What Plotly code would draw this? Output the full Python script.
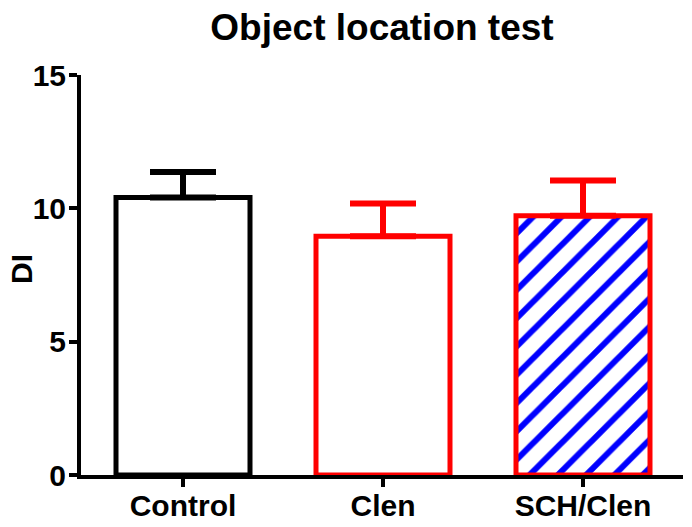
import plotly.graph_objects as go

categories = ["Control", "Clen", "SCH/Clen"]
means = [10.41, 8.95, 9.72]
errors_up = [0.95, 1.23, 1.32]
line_colors = ["#000000", "#ff0000", "#ff0000"]
patterns = ["", "", "/"]
y_ticks = [0, 5, 10, 15]

FONT = "Liberation Sans, Arial, sans-serif"

fig = go.Figure()
for i, cat in enumerate(categories):
    fig.add_trace(go.Bar(
        x=[i], y=[means[i]], width=0.67,
        marker=dict(
            color="white",
            line=dict(color=line_colors[i], width=5),
            pattern=dict(shape=patterns[i], fgcolor="#0000ff", bgcolor="white",
                         size=20, solidity=0.3, fillmode="replace"),
        ),
        error_y=dict(type="data", symmetric=False, array=[errors_up[i]], arrayminus=[0],
                     color=line_colors[i], thickness=6, width=33),
        showlegend=False,
    ))

fig.update_layout(
    width=692, height=527,
    margin=dict(l=81, r=9, t=75, b=52, autoexpand=False),
    paper_bgcolor="white", plot_bgcolor="white",
    barmode="overlay",
    title=dict(text="Object location test", x=0.5, xref="paper", xanchor="center",
               y=1 - 27 / 527, yref="container", yanchor="middle",
               font=dict(family=FONT, size=37, color="black", weight="bold")),
    font=dict(family=FONT, color="black"),
)
fig.update_xaxes(
    range=[-0.51, 2.5], tickvals=[0, 1, 2], ticktext=categories, automargin=False,
    showline=True, linecolor="black", linewidth=4, showgrid=False, zeroline=False,
    ticks="outside", ticklen=8, tickwidth=4, tickcolor="black", ticklabelstandoff=-7,
    tickfont=dict(family=FONT, size=30, color="black", weight="bold"),
)
fig.update_yaxes(
    range=[0, 15], tickvals=y_ticks, automargin=False,
    showline=True, linecolor="black", linewidth=4, showgrid=False, zeroline=False,
    ticks="outside", ticklen=8, tickwidth=4, tickcolor="black", ticklabelstandoff=-3,
    tickfont=dict(family=FONT, size=30, color="black", weight="bold"),
)
fig.add_annotation(text="DI", xref="paper", yref="paper", x=-59 / 602, y=(475 - 270) / 398,
                   textangle=-90, showarrow=False, xanchor="center", yanchor="middle",
                   font=dict(family=FONT, size=30, color="black", weight="bold"))

fig.write_html("out.html")
